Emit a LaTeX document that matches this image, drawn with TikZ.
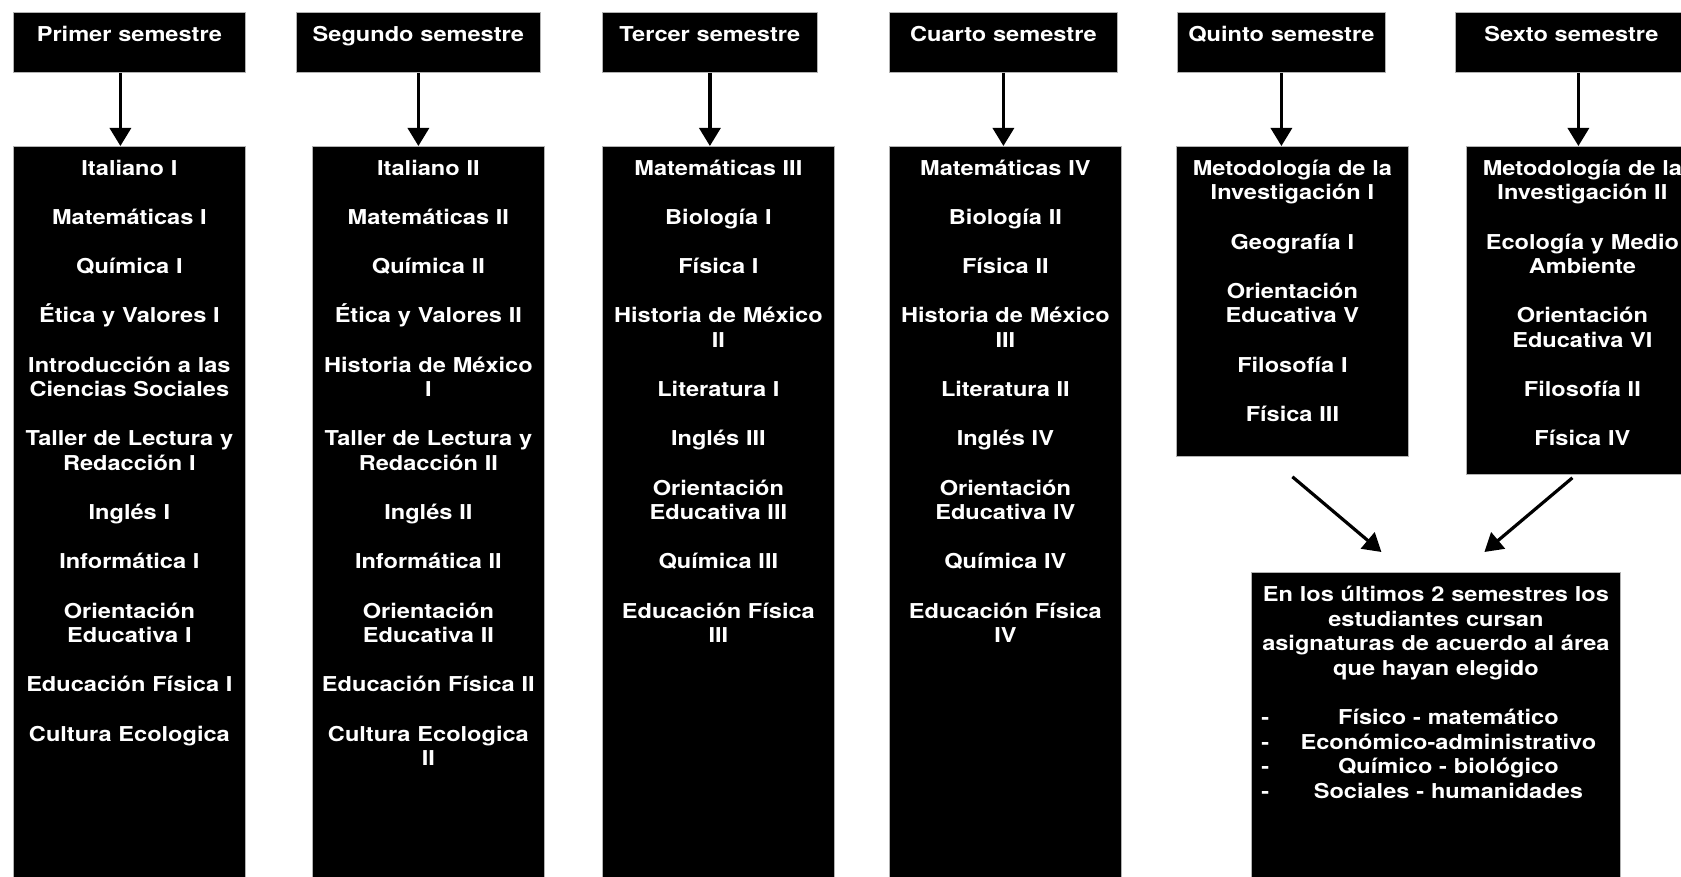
\documentclass[tikz,border=0pt]{standalone}
\usepackage{fontspec}
\setmainfont{TeX Gyre Heros}[FakeStretch=1.15]
\usepackage{tikz}
\usetikzlibrary{arrows.meta,positioning,calc}
\newcommand{\itemgap}{\\[12.3pt]}
\newcommand{\dashitem}[1]{\leavevmode\hbox to 184.5pt{\makebox[12.5pt][l]{\hspace{5pt}-}\hfil #1\hfil}}

\begin{document}
\begin{tikzpicture}[
  x=0.5pt, y=-0.5pt,
  box/.style={fill=black, draw=gray!60, line width=0.4pt, text=white, anchor=north west, inner sep=0pt, align=center, text height=14.5pt, font=\bfseries\fontsize{10.25pt}{12.3pt}\selectfont},
  head/.style={box, text depth=15.5pt},
  body/.style={box, text width=116pt},
  arr/.style={-{Triangle[length=9pt,width=10.5pt]}, line width=1.6pt, color=black},
]
\useasboundingbox (0,0) rectangle (1681,877);
\clip (0,0) rectangle (1681,877);

\node[head, text width=116pt] (h1) at (13,12) {Primer semestre};
\node[head, text width=122pt] (h2) at (296,12) {Segundo semestre};
\node[head, text width=107.5pt] (h3) at (602,12) {Tercer semestre};
\node[head, text width=114pt] (h4) at (889,12) {Cuarto semestre};
\node[head, text width=104pt] (h5) at (1177,12) {Quinto semestre};
\node[head, text width=116pt] (h6) at (1455,12) {Sexto semestre};

\node[body, text depth=362.5pt] (b1) at (13,146) {%
  Italiano I\itemgap Matemáticas I\itemgap Química I\itemgap Ética y Valores I\itemgap
  Introducción a las\\Ciencias Sociales\itemgap Taller de Lectura y\\Redacción I\itemgap
  Inglés I\itemgap Informática I\itemgap Orientación\\Educativa I\itemgap
  Educación Física I\itemgap Cultura Ecologica};

\node[body, text depth=362.5pt] (b2) at (312,146) {%
  Italiano II\itemgap Matemáticas II\itemgap Química II\itemgap Ética y Valores II\itemgap
  Historia de México\\I\itemgap Taller de Lectura y\\Redacción II\itemgap
  Inglés II\itemgap Informática II\itemgap Orientación\\Educativa II\itemgap
  Educación Física II\itemgap Cultura Ecologica\\II};

\node[body, text depth=362.5pt] (b3) at (602,146) {%
  Matemáticas III\itemgap Biología I\itemgap Física I\itemgap Historia de México\\II\itemgap
  Literatura I\itemgap Inglés III\itemgap Orientación\\Educativa III\itemgap
  Química III\itemgap Educación Física\\III};

\node[body, text depth=362.5pt] (b4) at (889,146) {%
  Matemáticas IV\itemgap Biología II\itemgap Física II\itemgap Historia de México\\III\itemgap
  Literatura II\itemgap Inglés IV\itemgap Orientación\\Educativa IV\itemgap
  Química IV\itemgap Educación Física\\IV};

\node[body, text depth=140.5pt] (b5) at (1176,146) {%
  Metodología de la\\Investigación I\itemgap Geografía I\itemgap
  Orientación\\Educativa V\itemgap Filosofía I\itemgap Física III};

\node[body, text depth=149.5pt] (b6) at (1466,146) {%
  Metodología de la\\Investigación II\itemgap Ecología y Medio\\Ambiente\itemgap
  Orientación\\Educativa VI\itemgap Filosofía II\itemgap Física IV};

\node[box, text width=184.5pt, text depth=149.5pt] (fin) at (1251,572) {%
  En los últimos 2 semestres los\\estudiantes cursan\\asignaturas de acuerdo al área\\que hayan elegido\itemgap
  \dashitem{Físico - matemático}\\\dashitem{Económico-administrativo}\\
  \dashitem{Químico - biológico}\\\dashitem{Sociales - humanidades}};

\draw[arr] ([xshift=-4.5pt]h1.south) -- ([xshift=-4.5pt]h1.south |- b1.north);
\draw[arr] (h2.south) -- (h2.south |- b2.north);
\draw[arr] (h3.south) -- (h3.south |- b3.north);
\draw[arr] (h4.south) -- (h4.south |- b4.north);
\draw[arr] (h5.south) -- (h5.south |- b5.north);
\draw[arr] ([xshift=-2pt]b6.north |- h6.south) -- ([xshift=-2pt]b6.north);

\draw[arr] ([yshift=-10pt]b5.south) -- ([xshift=-27.25pt,yshift=10pt]fin.north);
\draw[arr] ([xshift=-5pt,yshift=-1.5pt]b6.south) -- ([xshift=24.25pt,yshift=10pt]fin.north);

\end{tikzpicture}
\end{document}
